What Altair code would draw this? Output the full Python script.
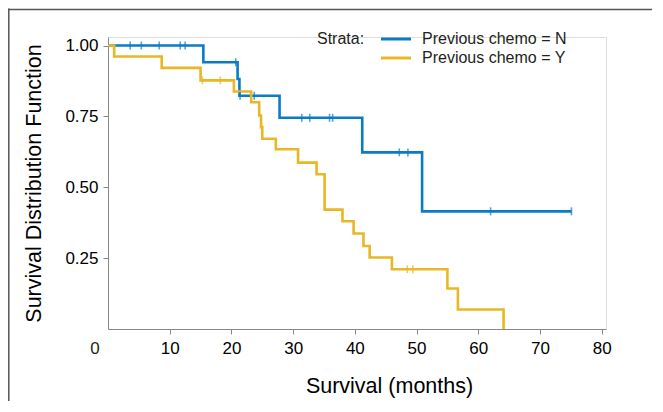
import altair as alt
import pandas as pd

# ---- data ----
groups = ["Previous chemo = N", "Previous chemo = Y"]
colors = ["#0a7cc4", "#e8b824"]

n_times = [0, 15.45, 21.0, 21.3, 27.8, 41.2, 50.9, 75.1]
n_surv = [1.0, 0.941, 0.882, 0.823, 0.745, 0.623, 0.415, 0.415]
n_censor = [3.6, 5.4, 8.3, 11.7, 12.5, 20.7, 21.4, 23.7, 31.4, 32.7, 35.9, 36.4,
            47.2, 48.6, 62.0, 75.1]

y_times = [0, 1.0, 8.7, 15.0, 20.4, 23.2, 24.5, 24.8, 25.0, 27.2, 30.8, 33.8, 35.1,
           38.0, 39.8, 41.4, 42.4, 46.0, 55.0, 56.7, 64.1]
y_surv = [1.0, 0.961, 0.921, 0.877, 0.838, 0.800, 0.753, 0.712, 0.671, 0.634, 0.587,
          0.546, 0.421, 0.380, 0.337, 0.293, 0.252, 0.211, 0.143, 0.069, 0.0]
y_censor = [15.3, 18.2, 48.5, 49.4]

x_ticks = [10, 20, 30, 40, 50, 60, 70, 80]
y_ticks = [0.25, 0.5, 0.75, 1.0]


def level_at(times, surv, t):
    lv = surv[0]
    for tt, s in zip(times, surv):
        if tt <= t:
            lv = s
    return lv


steps = pd.DataFrame(
    [{"t": t, "s": s, "g": groups[0]} for t, s in zip(n_times, n_surv)]
    + [{"t": t, "s": s, "g": groups[1]} for t, s in zip(y_times, y_surv)]
)
cens = pd.DataFrame(
    [{"t": t, "s": level_at(n_times, n_surv, t), "g": groups[0]} for t in n_censor]
    + [{"t": t, "s": level_at(y_times, y_surv, t), "g": groups[1]} for t in y_censor]
)

W, H = 498, 292
FONT = "Liberation Sans"
TXT = "#231f20"

xscale = alt.Scale(domain=[0, 80.7], nice=False, zero=True)
yscale = alt.Scale(domain=[0, 1.03], nice=False)
cscale = alt.Scale(domain=groups, range=colors)

x_enc = alt.X("t:Q", scale=xscale,
              axis=alt.Axis(values=x_ticks, title="Survival (months)", grid=False,
                            labelFontSize=17, titleFontSize=21.5, labelPadding=6,
                            tickSize=5, titleX=281, titleY=57, titleAlign="center",
                            titleBaseline="middle", titleFontWeight="normal"))
y_enc = alt.Y("s:Q", scale=yscale,
              axis=alt.Axis(values=y_ticks, format=".2f",
                            title="Survival Distribution Function", grid=False,
                            labelFontSize=17, titleFontSize=21.5, labelPadding=5,
                            tickSize=5, titleX=-74, titleY=146, titleAlign="center",
                            titleBaseline="middle", titleFontWeight="normal"))

lines = alt.Chart(steps).mark_line(interpolate="step-after", strokeWidth=2.6).encode(
    x=x_enc,
    y=y_enc,
    color=alt.Color("g:N", scale=cscale,
                    legend=alt.Legend(title="Strata:", orient="none", legendX=209,
                                      legendY=-6, titleOrient="left", titlePadding=13,
                                      titleAnchor="start", titleBaseline="top",
                                      titleFontSize=16, titleFontWeight="normal",
                                      labelFontSize=16, symbolType="M-1,0H5",
                                      symbolSize=100, symbolStrokeWidth=3,
                                      labelOffset=28, rowPadding=3, padding=0,
                                      titleColor=TXT, labelColor=TXT)),
    detail="g:N",
)

ticks = alt.Chart(cens).mark_tick(orient="vertical", size=8, thickness=1.6).encode(
    x="t:Q",
    y="s:Q",
    color=alt.Color("g:N", scale=cscale, legend=None),
)

one = pd.DataFrame({"a": [0]})
zero_label = alt.Chart(one).mark_text(text="0", fontSize=17, font=FONT, color=TXT,
                                      align="center", baseline="middle").encode(
    x=alt.value(-13), y=alt.value(312)
)
frame_left = alt.Chart(one).mark_rule(stroke="#555555", strokeWidth=1.5).encode(
    x=alt.value(-99.2), y=alt.value(-28.4), y2=alt.value(H + 80)
)
frame_top = alt.Chart(one).mark_rule(stroke="#555555", strokeWidth=1.5).encode(
    x=alt.value(-100), x2=alt.value(W + 60), y=alt.value(-27.6)
)

chart = alt.layer(frame_left, frame_top, lines, ticks, zero_label).properties(
    width=W, height=H,
    autosize=alt.AutoSizeParams(type="none"),
    padding={"left": 100, "top": 29, "right": 46, "bottom": 72},
).configure_view(stroke=None).configure_axis(
    domainColor="#333333", domainWidth=1.5, tickColor="#333333", tickWidth=1.3,
    labelColor=TXT, titleColor=TXT, labelFont=FONT, titleFont=FONT,
).configure_legend(labelFont=FONT, titleFont=FONT).configure(background="white")

chart.save("out.html", embed_options={"renderer": "svg", "actions": False})
